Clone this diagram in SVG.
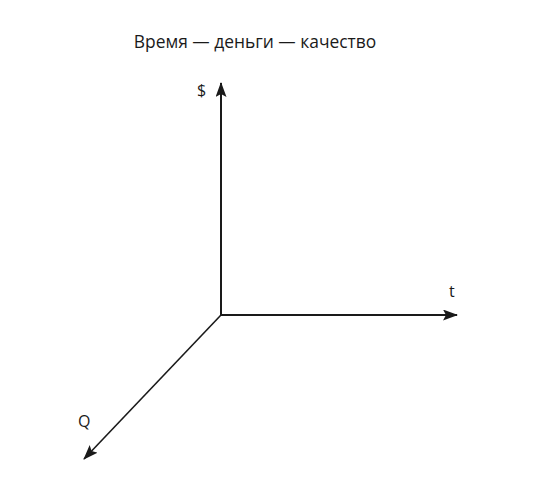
<svg xmlns="http://www.w3.org/2000/svg" width="536" height="490" viewBox="0 0 536 490">
<style>
text{font-family:"Open Sans","Liberation Sans",sans-serif;fill:#1a1a1a}
.ax{stroke:#1a1a1a;fill:none}
</style>
<defs>
<marker id="ah" viewBox="0 0 15 11" refX="14" refY="5.5" markerWidth="15" markerHeight="11" markerUnits="userSpaceOnUse" orient="auto">
<path d="M0,0 L15,5.5 L0,11 L3,5.5 z" fill="#1a1a1a"/>
</marker>
</defs>
<rect width="536" height="490" fill="#fff"/>
<text id="title" x="255" y="48" font-size="17.4" text-anchor="middle">Время — деньги — качество</text>
<g id="connectors">
<line class="ax" x1="221" y1="316" x2="221" y2="83" stroke-width="2" marker-end="url(#ah)"/>
<line class="ax" x1="220" y1="315" x2="457" y2="315" stroke-width="2" marker-end="url(#ah)"/>
<line class="ax" x1="221" y1="315" x2="84" y2="459" stroke-width="1.6" marker-end="url(#ah)"/>
</g>
<g id="label-money"><text x="197" y="96" font-size="16">$</text></g>
<g id="label-time"><text x="449" y="297" font-size="16">t</text></g>
<g id="label-quality"><text x="78" y="427" font-size="16">Q</text></g>
</svg>
